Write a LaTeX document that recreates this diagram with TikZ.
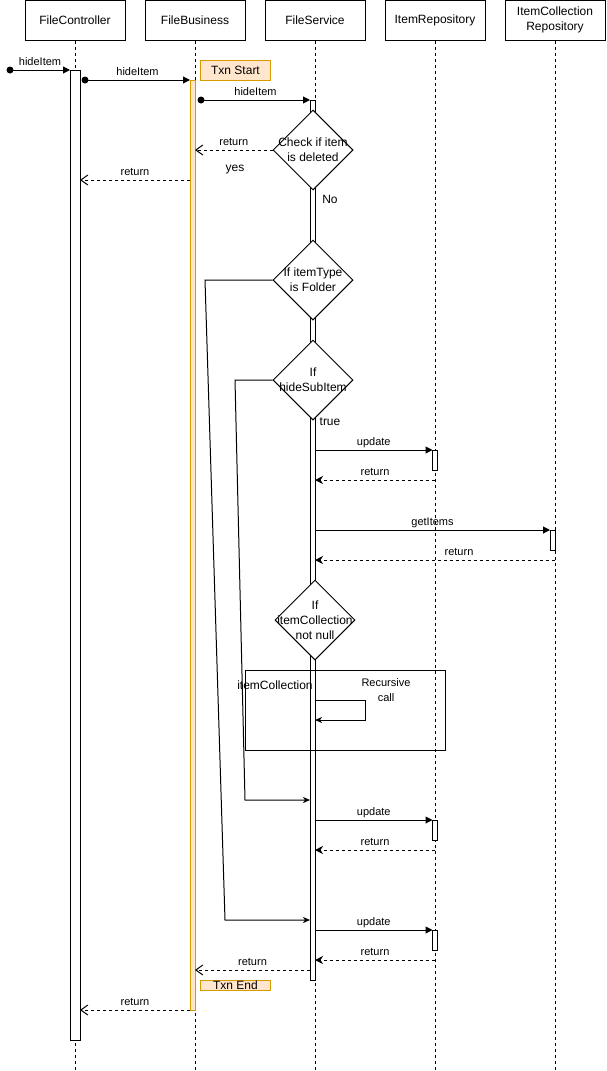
\documentclass[tikz,border=0pt]{standalone}
\usepackage{fontspec}
\setmainfont{Liberation Sans}
\usetikzlibrary{arrows.meta,shapes.geometric}
\definecolor{txnfill}{HTML}{FFE6CC}
\definecolor{txnline}{HTML}{D79B00}
\begin{document}
\begin{tikzpicture}[x=1pt,y=-1pt,line width=1pt,
  every node/.style={font=\fontsize{12}{15}\selectfont},
  head/.style={draw,fill=white,minimum width=100pt,minimum height=40pt,inner sep=0pt,align=center},
  life/.style={dash pattern=on 3pt off 3pt},
  actbar/.style={draw,fill=white,inner sep=0pt,outer sep=0pt,anchor=north west},
  txnbar/.style={actbar,draw=txnline,fill=txnfill},
  txnnote/.style={draw=txnline,fill=txnfill,inner sep=0pt,minimum width=70pt,anchor=north west},
  decision/.style={diamond,draw,fill=white,minimum width=80pt,minimum height=80pt,inner sep=0pt},
  lbl/.style={font=\fontsize{11}{13}\selectfont,anchor=base,yshift=4.5pt,inner sep=0pt},
  msg/.style={-{Triangle[length=7pt,width=7pt]}},
  ret/.style={dash pattern=on 3pt off 3pt,-{Stealth[length=8pt,width=8pt,inset=2.5pt]}},
  retopen/.style={dash pattern=on 3pt off 3pt,-{Straight Barb[length=7pt,width=10pt]}},
  flow/.style={-{Stealth[length=7pt,width=6pt,inset=2pt]}},
  startdot/.style={circle,fill,inner sep=0pt,minimum size=7pt},
]
\useasboundingbox (0,0) rectangle (606,1071);

% participants and lifelines
\node[head] (fc) at (75,20) {FileController};
\node[head] (fb) at (195,20) {FileBusiness};
\node[head] (fs) at (315,20) {FileService};
\node[head] (ir) at (435,20) {ItemRepository};
\node[head] (icr) at (555,20) {ItemCollection\\Repository};
\foreach \p in {fc,fb,fs,ir,icr} \draw[life] (\p.south) -- (\p.south |- 0,1071);

% activation bars
\node[actbar,minimum width=10pt,minimum height=970pt] (fcA) at (70,70) {};
\node[txnbar,minimum width=5pt,minimum height=930pt] (fbA) at (190,80) {};
\node[actbar,minimum width=5pt,minimum height=880pt] (fsA) at (310,100) {};
\node[actbar,minimum width=5pt,minimum height=20pt] (ir1) at (432.5,450) {};
\node[actbar,minimum width=5pt,minimum height=20pt] (icr1) at (550,530) {};
\node[actbar,minimum width=5pt,minimum height=20pt] (ir2) at (432.5,820) {};
\node[actbar,minimum width=5pt,minimum height=20pt] (ir3) at (432.5,930) {};

% transaction notes
\node[txnnote,minimum height=20pt] (txs) at (200,60) {Txn Start};
\node[txnnote,minimum height=10pt] (txe) at (200,980) {Txn End};

% incoming calls
\node[startdot] (s1) at (10,70) {};
\draw[msg] (s1.center) -- (fcA.north west) node[lbl,midway]{hideItem};
\node[startdot] (s2) at (85,80) {};
\draw[msg] (s2.center) -- (fbA.north west) node[lbl,midway]{hideItem};
\node[startdot] (s3) at (201,100) {};
\draw[msg] (s3.center) -- (fsA.north west) node[lbl,midway]{hideItem};

% deleted check
\node[decision] (d1) at (313,150) {};
\node[align=center] at (d1) {Check if item\\is deleted};
\draw[retopen] (d1.west) -- (fbA.east |- d1.west) node[lbl,midway]{return};
\node at (235,170) {yes};
\draw[retopen] (fbA.west |- 0,180) -- (fcA.east |- 0,180) node[lbl,midway]{return};
\node at (330,199) {No};

% folder / sub item checks
\node[decision] (d2) at (313,280) {};
\node[align=center] at (d2) {If itemType\\is Folder};
\node[decision] (d3) at (313,380) {};
\node[align=center] at (d3) {If\\hideSubItem};
\node at (330,422) {true};

\coordinate (k1) at (205,280);
\coordinate (k2) at (225,920);
\draw[flow] (d2.west) -- (k1) -- (k2) -- (fsA.west |- k2);
\coordinate (k3) at (235,380);
\coordinate (k4) at (245,800);
\draw[flow] (d3.west) -- (k3) -- (k4) -- (fsA.west |- k4);

% repository calls
\draw[msg] (fsA.east |- ir1.north) -- (ir1.north west) node[lbl,midway]{update};
\draw[ret] (ir.south |- 0,480) -- (fsA.east |- 0,480) node[lbl,midway]{return};
\draw[msg] (fsA.east |- icr1.north) -- (icr1.north west) node[lbl,midway]{getItems};
\draw[ret] (icr.south |- 0,560) -- (fsA.east |- 0,560) node[lbl,pos=0.4]{return};

% collection check and recursion
\node[decision] (d4) at (315,620) {};
\node[align=center] at (d4) {If\\itemCollection\\not null};
\node[draw,minimum width=200pt,minimum height=80pt,inner sep=0pt] (frame) at (345,710) {};
\node at (275,685) {itemCollection};
\node[align=center,font=\fontsize{11}{14.5}\selectfont] at (386,690) {Recursive\\call};
\coordinate (r1) at (365,700);
\coordinate (r2) at (365,720);
\draw[flow] (fsA.east |- r1) -- (r1) -- (r2) -- (fsA.east |- r2);

% updates
\draw[msg] (fsA.east |- ir2.north) -- (ir2.north west) node[lbl,midway]{update};
\draw[ret] (ir.south |- 0,850) -- (fsA.east |- 0,850) node[lbl,midway]{return};
\draw[msg] (fsA.east |- ir3.north) -- (ir3.north west) node[lbl,midway]{update};
\draw[ret] (ir.south |- 0,960) -- (fsA.east |- 0,960) node[lbl,midway]{return};

% final returns
\draw[retopen] (fsA.west |- 0,970) -- (fbA.east |- 0,970) node[lbl,midway]{return};
\draw[retopen] (fbA.west |- 0,1010) -- (fcA.east |- 0,1010) node[lbl,midway]{return};
\end{tikzpicture}
\end{document}
